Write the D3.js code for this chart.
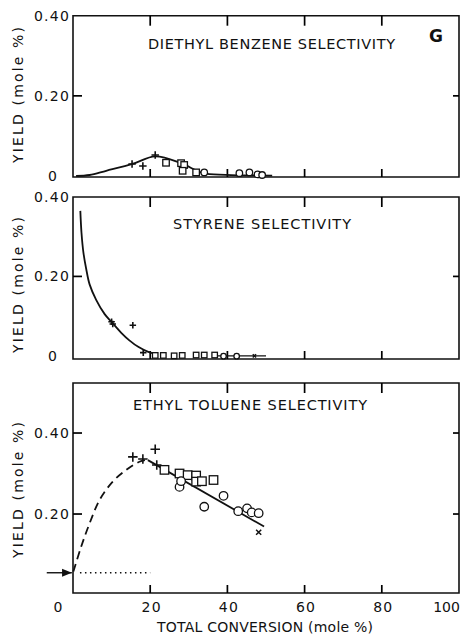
<!DOCTYPE html>
<html>
<head>
<meta charset="utf-8">
<script src="https://cdn.jsdelivr.net/npm/d3@7"></script>
<style>
  body { margin: 0; background: #fff; }
  svg { display: block; }
  text { font-family: "DejaVu Sans", sans-serif; fill: #111; }
</style>
</head>
<body>
<svg width="461" height="641"></svg>
<script>
// x axis (total conversion, mole %)
var xTickValues = [0, 20, 40, 60, 80, 100];
var xTickLabels = ["0", "20", "40", "60", "80", "100"];
var xInnerTicks = [20, 40, 60, 80];

// panel titles
var titles = ["DIETHYL BENZENE SELECTIVITY", "STYRENE SELECTIVITY", "ETHYL TOLUENE SELECTIVITY"];

// diethyl benzene
var debPlus = [[15.3, 0.030], [18.1, 0.025], [21.3, 0.0525]];
var debSquare = [[24.1, 0.033], [28.0, 0.032], [28.8, 0.0275], [28.4, 0.013], [31.9, 0.009]];
var debCircle = [[34.0, 0.009], [43.1, 0.007], [45.7, 0.009], [47.8, 0.004], [49.0, 0.0025]];
var debCurve = [[0.8, 0], [4.3, 0.0025], [8.6, 0.013], [15.4, 0.030], [21.3, 0.049], [28.0, 0.032], [33.5, 0.008], [39.6, 0.003], [51.6, 0.001]];

// styrene
var styPlus = [[10.0, 0.086], [10.3, 0.080], [15.5, 0.077], [18.2, 0.008]];
var stySquare = [[21.3, 0.001], [23.4, 0.001], [26.2, 0.0], [28.3, 0.001], [31.9, 0.002], [34.0, 0.002], [36.7, 0.002]];
var styCircle = [[39.0, -0.001], [42.4, -0.001]];
var styCross = [[47.0, 0.0]];
var styCurve = [[1.9, 0.365], [2.2, 0.31], [2.7, 0.26], [3.4, 0.22], [4.3, 0.18], [6.0, 0.141], [8.2, 0.105], [10.2, 0.083],
  [12.5, 0.058], [14.6, 0.039], [17.0, 0.022], [19.5, 0.010], [22.0, 0.003]];

// ethyl toluene
var etPlus = [[15.5, 0.341], [18.1, 0.336], [21.3, 0.360], [21.7, 0.321]];
var etSquare = [[23.7, 0.309], [27.6, 0.300], [29.7, 0.296], [31.9, 0.295], [31.9, 0.280], [33.4, 0.281], [36.4, 0.284]];
var etCircle = [[27.6, 0.267], [28.0, 0.281], [34.0, 0.218], [39.0, 0.245], [42.8, 0.207], [45.1, 0.214], [46.3, 0.204], [48.1, 0.202]];
var etCross = [[48.1, 0.155]];
var etDashed = [[0.1, 0.058], [2.1, 0.119], [4.3, 0.177], [6.9, 0.235], [10.3, 0.280], [13.8, 0.309], [17.2, 0.329], [19.8, 0.335]];
var etLine = [[19.4, 0.333], [49.5, 0.169]];
var etIntercept = 0.055;

var svg = d3.select("svg");

var x = d3.scaleLinear().domain([0, 100]).range([73, 459]);

var panels = [
  { top: 15.7, bottom: 177, y: d3.scaleLinear().domain([-0.0025, 0.4]).range([177, 15.7]),
    yLab: [0, 0.2, 0.4], ticks: [0.2], title: titles[0], tx: 148, tl: 247, ty: 49, ycy: 95, ms: 6.5 },
  { top: 197, bottom: 359, y: d3.scaleLinear().domain([-0.008, 0.4]).range([359, 197]),
    yLab: [0, 0.2, 0.4], ticks: [0.2], title: titles[1], tx: 173, tl: 178, ty: 229, ycy: 285, ms: 5.5 },
  { top: 383, bottom: 593, y: d3.scaleLinear().domain([0.005, 0.5235]).range([593, 383]),
    yLab: [0.2, 0.4], ticks: [0.2, 0.4], title: titles[2], tx: 133, tl: 234, ty: 410, ycy: 490, ms: 8.5 }
];

var line = d3.line().x(function(d) { return x(d[0]); });

function yfmt(v) { return v === 0 ? "0" : v.toFixed(2); }

function drawMarks(g, y, plus, square, circle, cross, s) {
  var h = s / 2;
  var ph = h + 0.5;
  g.append("g").selectAll("path").data(plus).enter().append("path")
    .attr("d", "M" + (-ph) + ",0H" + ph + "M0," + (-ph) + "V" + ph)
    .attr("transform", function(d) { return "translate(" + x(d[0]) + "," + y(d[1]) + ")"; })
    .attr("stroke", "#111").attr("stroke-width", 1.6).attr("fill", "none");
  g.append("g").selectAll("rect").data(square).enter().append("rect")
    .attr("x", function(d) { return x(d[0]) - h; })
    .attr("y", function(d) { return y(d[1]) - h; })
    .attr("width", s).attr("height", s)
    .attr("fill", "#fff").attr("stroke", "#111").attr("stroke-width", 1.3);
  g.append("g").selectAll("circle").data(circle).enter().append("circle")
    .attr("cx", function(d) { return x(d[0]); })
    .attr("cy", function(d) { return y(d[1]); })
    .attr("r", h)
    .attr("fill", "#fff").attr("stroke", "#111").attr("stroke-width", 1.3);
  var c = h * 0.6;
  g.append("g").selectAll("path").data(cross).enter().append("path")
    .attr("d", "M" + (-c) + "," + (-c) + "L" + c + "," + c + "M" + c + "," + (-c) + "L" + (-c) + "," + c)
    .attr("transform", function(d) { return "translate(" + x(d[0]) + "," + y(d[1]) + ")"; })
    .attr("stroke", "#111").attr("stroke-width", 1.5).attr("fill", "none");
}

// short tick marks drawn as paths from a scale
function tickMarks(g, data, pathFn) {
  g.append("g").selectAll("path").data(data).enter().append("path")
    .attr("d", pathFn)
    .attr("fill", "none").attr("stroke", "#000").attr("stroke-width", 1.7);
}

panels.forEach(function(p, i) {
  var g = svg.append("g");
  var y = p.y;

  // frame
  g.append("path")
    .attr("d", "M" + x(0) + "," + p.top + "H" + x(100) + "V" + p.bottom + "H" + x(0) + "Z")
    .attr("fill", "none").attr("stroke", "#111").attr("stroke-width", 1.6);

  // tick marks, all pointing inward (drawn after the frame)
  tickMarks(g, xInnerTicks, function(d) { return "M" + x(d) + "," + p.top + "V" + (p.top + 10); });
  tickMarks(g, xInnerTicks, function(d) { return "M" + x(d) + "," + p.bottom + "V" + (p.bottom - 8); });
  tickMarks(g, p.ticks, function(d) { return "M" + x(100) + "," + y(d) + "H" + (x(100) - 6); });
  tickMarks(g, p.ticks, function(d) { return "M" + x(0) + "," + y(d) + "H" + (x(0) + 9); });

  // y labels
  var yl = g.append("g").attr("transform", "translate(" + x(0) + ",0)")
    .call(d3.axisLeft(y).tickValues(p.yLab).tickSize(0).tickPadding(3).tickFormat(yfmt));
  yl.select(".domain").remove();
  yl.selectAll("text").style("font-size", "14px").style("letter-spacing", "1.2px")
    .attr("dx", function(d) { return d === 0 ? -12 : 0; });

  // title
  g.append("text").attr("x", p.tx).attr("y", p.ty)
    .attr("textLength", p.tl).attr("lengthAdjust", "spacing")
    .style("font-size", "14.5px").text(p.title);

  // y axis title
  g.append("text")
    .attr("transform", "translate(18," + p.ycy + ") rotate(-90)")
    .attr("text-anchor", "middle").attr("dy", "0.35em")
    .attr("textLength", 136).attr("lengthAdjust", "spacing")
    .style("font-size", "14px").text("YIELD (mole %)");

  line.y(function(d) { return y(d[1]); });

  if (i === 0) {
    g.append("path").datum(debCurve).attr("d", line.curve(d3.curveCatmullRom))
      .attr("fill", "none").attr("stroke", "#111").attr("stroke-width", 1.8);
    drawMarks(g, y, debPlus, debSquare, debCircle, [], p.ms);
    g.append("text").attr("x", 436).attr("y", 41.5).attr("text-anchor", "middle")
      .style("font-size", "17px").style("font-weight", "bold").text("G");
  } else if (i === 1) {
    g.append("path").datum(styCurve).attr("d", line.curve(d3.curveCatmullRom))
      .attr("fill", "none").attr("stroke", "#111").attr("stroke-width", 1.8);
    g.append("path").datum([[36, 0.0], [50, 0.0]]).attr("d", line.curve(d3.curveLinear))
      .attr("fill", "none").attr("stroke", "#111").attr("stroke-width", 1.2);
    drawMarks(g, y, styPlus, stySquare, styCircle, styCross, p.ms);
  } else {
    g.append("path").datum(etDashed).attr("d", line.curve(d3.curveCatmullRom))
      .attr("fill", "none").attr("stroke", "#111").attr("stroke-width", 1.8)
      .attr("stroke-dasharray", "8,5");
    g.append("path").datum(etLine).attr("d", line.curve(d3.curveLinear))
      .attr("fill", "none").attr("stroke", "#111").attr("stroke-width", 1.8);
    drawMarks(g, y, etPlus, etSquare, etCircle, etCross, p.ms);

    // intercept: dotted guide and arrow
    g.append("line").attr("x1", x(1.8)).attr("x2", x(20))
      .attr("y1", y(etIntercept)).attr("y2", y(etIntercept))
      .attr("stroke", "#111").attr("stroke-width", 1.3).attr("stroke-dasharray", "1.5,3.5");
    svg.append("defs").append("marker").attr("id", "ah")
      .attr("viewBox", "0 0 10 10").attr("refX", 10).attr("refY", 5)
      .attr("markerWidth", 7).attr("markerHeight", 7).attr("orient", "auto")
      .append("path").attr("d", "M0,1L10,5L0,9Z").attr("fill", "#111");
    g.append("line").attr("x1", x(-6.8)).attr("x2", x(-0.3))
      .attr("y1", y(etIntercept)).attr("y2", y(etIntercept))
      .attr("stroke", "#111").attr("stroke-width", 1.4).attr("marker-end", "url(#ah)");

    // x labels
    var xl = g.append("g").attr("transform", "translate(0," + p.bottom + ")")
      .call(d3.axisBottom(x).tickValues(xTickValues).tickSize(0).tickPadding(9)
        .tickFormat(function(d, k) { return xTickLabels[k]; }));
    xl.select(".domain").remove();
    xl.selectAll("text").style("font-size", "14px")
      .style("letter-spacing", function(d) { return d === 100 ? "0px" : "1.2px"; })
      .attr("dx", function(d) { return d === 0 ? -15 : (d === 100 ? -13 : 1); });

    g.append("text").attr("x", 157).attr("y", 632)
      .attr("textLength", 216).attr("lengthAdjust", "spacing")
      .style("font-size", "14px").text("TOTAL CONVERSION (mole %)");
  }
});
</script>
</body>
</html>
